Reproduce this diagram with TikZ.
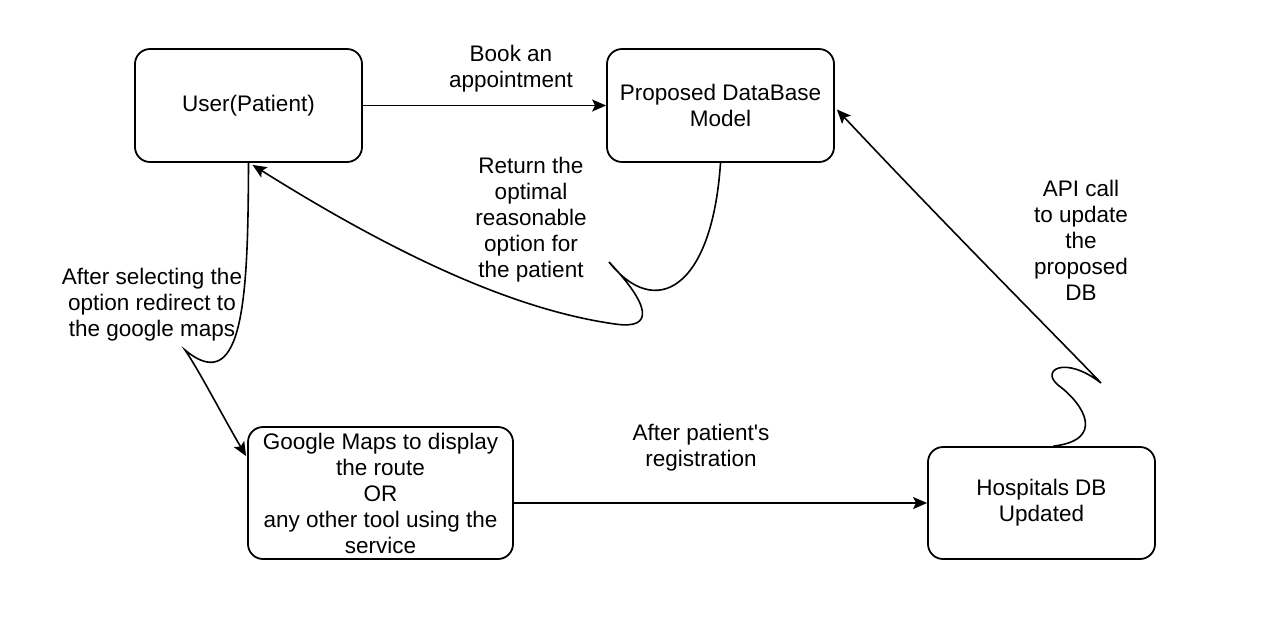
\documentclass[tikz,border=0pt]{standalone}
\usepackage{fontspec}
\setmainfont{Liberation Sans}[Ligatures=TeXOff]
\usetikzlibrary{arrows.meta,calc}
\begin{document}
\begin{tikzpicture}[x=1pt,y=-1pt,
  every node/.style={font=\fontsize{22.5}{26}\selectfont},
  box/.style={draw,line width=1.8pt,rounded corners=15pt,align=center,inner sep=0pt},
  lbl/.style={align=center,inner sep=0pt},
  conn/.style={line width=1.6pt,-{Stealth[length=14pt,width=12pt,inset=3pt]}}]
\useasboundingbox (0,0) rectangle (1265,630);
\node[box,minimum width=227pt,minimum height=113pt] (user) at (248.5,105.5) {User(Patient)};
\node[box,minimum width=227pt,minimum height=113pt] (pdb) at (720.5,105.5) {Proposed DataBase\\Model};
\node[box,minimum width=265pt,minimum height=132pt] (gmap) at (380.5,493) {Google Maps to display\\the route\\OR\\any other tool using the\\service};
\node[box,minimum width=227pt,minimum height=112pt] (hdb) at (1041.5,503) {Hospitals DB\\Updated};

\node[lbl] (l1) at (511,69) {Book an\\appointment};
\node[lbl] (l2) at (531,220) {Return the\\optimal\\reasonable\\option for\\the patient};
\node[lbl] (l3) at (152,305) {After selecting the\\option redirect to\\the google maps};
\node[lbl] (l4) at (701,448) {After patient's\\registration};
\node[lbl] (l5) at (1081,240) {API call\\to update\\the\\proposed\\DB};

\draw[conn] (user.east) -- (pdb.west);
\draw[conn] (gmap.east |- hdb.west) -- (hdb.west);
\draw[conn] (pdb.south) .. controls (712,290) and (655,320) .. (609,262)
  .. controls (650,305) and (655,330) .. (615,324)
  .. controls (530,312) and (420,270) .. ($(user.south)+(4,2)$);
\draw[conn] (user.south) .. controls (248,290) and (245,400) .. (185,350)
  .. controls (200,372) and (222,415) .. ($(gmap.north west)+(-1,30)$);
\draw[conn] ($(hdb.north)+(12,0)$) .. controls (1105,440) and (1085,405) .. (1058,385)
  .. controls (1040,370) and (1065,355) .. (1101,383)
  .. controls (1060,340) and (950,230) .. ($(pdb.east)+(2,4)$);
\end{tikzpicture}
\end{document}
